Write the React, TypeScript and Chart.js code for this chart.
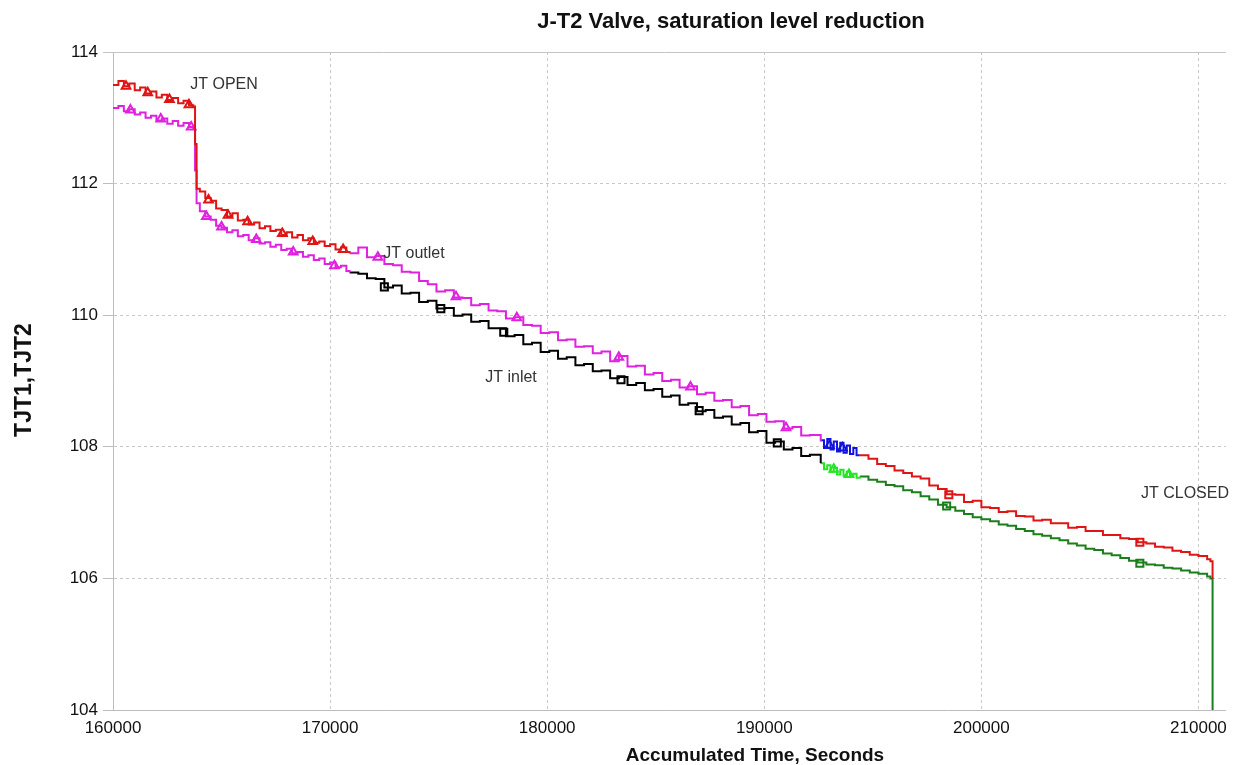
import React, { useEffect, useRef } from "react";
import { Chart, registerables } from "chart.js";

Chart.register(...registerables);

// ---------- data ----------
// segment 1: JT open (upper red / lower magenta)
const seg1Time = [160000, 160250, 160500, 160750, 161000, 161250, 161500, 161750, 162000, 162250, 162500, 162750, 163000, 163250, 163500, 163700, 163780, 163850, 164000, 164250, 164500, 164750, 165000, 165250, 165500, 165750, 166000, 166250, 166500, 166750, 167000, 167250, 167500, 167750, 168000, 168250, 168500, 168750, 169000, 169250, 169500, 169750, 170000, 170250, 170500, 170750, 170900];
const seg1Upper = [113.5, 113.56, 113.48, 113.52, 113.42, 113.46, 113.37, 113.4, 113.31, 113.35, 113.27, 113.3, 113.22, 113.26, 113.19, 113.17, 112.6, 111.92, 111.88, 111.78, 111.74, 111.62, 111.6, 111.5, 111.55, 111.44, 111.45, 111.38, 111.41, 111.32, 111.35, 111.28, 111.3, 111.22, 111.26, 111.18, 111.22, 111.14, 111.17, 111.1, 111.12, 111.05, 111.08, 111.0, 111.03, 110.96, 110.94];
const seg1Lower = [113.15, 113.18, 113.1, 113.13, 113.05, 113.08, 113.0, 113.03, 112.96, 112.99, 112.91, 112.95, 112.88, 112.92, 112.86, 112.84, 112.2, 111.7, 111.58, 111.5, 111.45, 111.36, 111.33, 111.26, 111.29, 111.2, 111.22, 111.14, 111.17, 111.09, 111.11, 111.04, 111.07, 110.99, 111.01, 110.94, 110.96, 110.89, 110.91, 110.84, 110.86, 110.78, 110.8, 110.73, 110.75, 110.67, 110.65];

// segment 2: upper magenta (JT outlet) / lower black (JT inlet)
const seg2Time = [170900, 171300, 171700, 172100, 172500, 172900, 173300, 173700, 174100, 174500, 174900, 175300, 175700, 176100, 176500, 176900, 177300, 177700, 178100, 178500, 178900, 179300, 179700, 180100, 180500, 180900, 181300, 181700, 182100, 182500, 182900, 183300, 183700, 184100, 184500, 184900, 185300, 185700, 186100, 186500, 186900, 187300, 187700, 188100, 188500, 188900, 189300, 189700, 190100, 190500, 190900, 191300, 191700, 192100, 192600];
const seg2Upper = [110.94, 111.03, 110.88, 110.9, 110.78, 110.76, 110.66, 110.65, 110.52, 110.47, 110.36, 110.38, 110.27, 110.26, 110.15, 110.17, 110.07, 110.06, 109.95, 109.97, 109.85, 109.84, 109.73, 109.74, 109.62, 109.63, 109.52, 109.53, 109.42, 109.45, 109.3, 109.38, 109.22, 109.23, 109.1, 109.12, 109.0, 109.02, 108.9, 108.92, 108.8, 108.82, 108.7, 108.71, 108.6, 108.62, 108.48, 108.5, 108.38, 108.39, 108.28, 108.3, 108.17, 108.18, 108.08];
const seg2Lower = [110.65, 110.63, 110.56, 110.55, 110.42, 110.45, 110.33, 110.34, 110.2, 110.22, 110.1, 110.11, 109.99, 110.01, 109.9, 109.91, 109.8, 109.8, 109.68, 109.7, 109.56, 109.58, 109.44, 109.46, 109.34, 109.36, 109.24, 109.26, 109.15, 109.16, 109.04, 109.06, 108.94, 108.97, 108.86, 108.88, 108.76, 108.78, 108.64, 108.66, 108.54, 108.56, 108.44, 108.46, 108.34, 108.36, 108.22, 108.24, 108.06, 108.08, 107.96, 107.98, 107.86, 107.88, 107.75];

// segment 3: upper blue / lower light green
const seg3Time = [192600, 192750, 192900, 193050, 193200, 193350, 193500, 193650, 193800, 193950, 194100, 194250, 194400];
const seg3Upper = [108.1, 107.98, 108.12, 107.96, 108.08, 107.93, 108.06, 107.91, 108.02, 107.89, 107.98, 107.87, 107.87];
const seg3Lower = [107.75, 107.66, 107.72, 107.62, 107.68, 107.58, 107.65, 107.56, 107.62, 107.55, 107.59, 107.53, 107.55];

// segment 4: upper red / lower dark green, until JT closed
const seg4Time = [194400, 194800, 195200, 195600, 196000, 196400, 196800, 197200, 197600, 198000, 198400, 198800, 199200, 199600, 200000, 200400, 200800, 201200, 201600, 202000, 202400, 202800, 203200, 203600, 204000, 204400, 204800, 205200, 205600, 206000, 206400, 206800, 207200, 207600, 208000, 208400, 208800, 209200, 209600, 210000, 210400, 210550, 210650];
const seg4Upper = [107.87, 107.82, 107.74, 107.71, 107.64, 107.6, 107.55, 107.52, 107.41, 107.36, 107.28, 107.27, 107.16, 107.18, 107.08, 107.07, 107.01, 107.02, 106.95, 106.94, 106.88, 106.89, 106.84, 106.84, 106.77, 106.78, 106.72, 106.72, 106.66, 106.66, 106.61, 106.6, 106.55, 106.53, 106.48, 106.47, 106.42, 106.4, 106.36, 106.34, 106.29, 106.26, 106.0];
const seg4Lower = [107.55, 107.5, 107.47, 107.42, 107.4, 107.34, 107.31, 107.25, 107.2, 107.12, 107.08, 107.03, 106.98, 106.93, 106.9, 106.87, 106.82, 106.8, 106.75, 106.72, 106.67, 106.65, 106.61, 106.58, 106.53, 106.5, 106.45, 106.43, 106.38, 106.35, 106.31, 106.27, 106.24, 106.21, 106.2, 106.16, 106.15, 106.12, 106.09, 106.07, 106.03, 106.0, 103.0];

// marker symbols
const mkRedT = [160600, 161600, 162600, 163500, 164400, 165300, 166200, 167800, 169200, 170600];
const mkRedV = [113.48, 113.38, 113.28, 113.2, 111.75, 111.52, 111.42, 111.24, 111.12, 111.0];
const mkMagT = [160800, 162200, 163600, 164300, 165000, 166600, 168300, 170200, 172200, 175800, 178600, 183300, 186600, 191000];
const mkMagV = [113.12, 112.98, 112.86, 111.5, 111.34, 111.15, 110.96, 110.75, 110.88, 110.28, 109.96, 109.36, 108.91, 108.29];
const mkBlkT = [172500, 175100, 178000, 183400, 187000, 190600];
const mkBlkV = [110.43, 110.1, 109.74, 109.02, 108.55, 108.06];
const mkBluT = [193000, 193600];
const mkBluV = [108.02, 107.98];
const mkLgrT = [193200, 193900];
const mkLgrV = [107.66, 107.58];
const mkRed2T = [198500, 207300];
const mkRed2V = [107.27, 106.55];
const mkGrnT = [198400, 207300];
const mkGrnV = [107.1, 106.23];

const xTickValues = [160000, 170000, 180000, 190000, 200000, 210000];
const yTickValues = [104, 106, 108, 110, 112, 114];

const RED = "#e01414";
const MAGENTA = "#e022e0";
const BLACK = "#000000";
const BLUE = "#1212e0";
const LGREEN = "#22e622";
const DGREEN = "#1a7f1a";

const pts = (t: number[], v: number[]) => t.map((x, i) => ({ x, y: v[i] }));

const lineDs = (label: string, t: number[], v: number[], color: string) => ({
  label,
  data: pts(t, v),
  borderColor: color,
  backgroundColor: color,
  borderWidth: 2,
  pointRadius: 0,
  stepped: true,
  fill: false,
});

const markDs = (label: string, t: number[], v: number[], color: string, style: string) => ({
  label,
  data: pts(t, v),
  borderColor: color,
  backgroundColor: "rgba(0,0,0,0)",
  borderWidth: 2,
  pointRadius: 5,
  pointStyle: style,
  showLine: false,
});

const FONT = "'Liberation Sans', Arial, Helvetica, sans-serif";

const textPlugin = {
  id: "texts",
  afterDraw(chart: any) {
    const { ctx, chartArea } = chart;
    ctx.save();
    // solid top frame line
    ctx.strokeStyle = "#c4c4c4";
    ctx.lineWidth = 1;
    ctx.beginPath();
    ctx.moveTo(chartArea.left - 10, chartArea.top + 0.5);
    ctx.lineTo(chartArea.right, chartArea.top + 0.5);
    ctx.stroke();

    ctx.fillStyle = "#111";
    ctx.textAlign = "center";
    ctx.textBaseline = "alphabetic";
    ctx.font = `bold 22px ${FONT}`;
    ctx.fillText("J-T2 Valve, saturation level reduction", 731, 28);
    ctx.font = `bold 19px ${FONT}`;
    ctx.fillText("Accumulated Time, Seconds", 755, 761);

    ctx.save();
    ctx.translate(31, 380);
    ctx.rotate(-Math.PI / 2);
    ctx.font = `bold 23px ${FONT}`;
    ctx.fillText("TJT1,TJT2", 0, 0);
    ctx.restore();

    ctx.fillStyle = "#333";
    ctx.font = `16px ${FONT}`;
    ctx.fillText("JT OPEN", 224, 89);
    ctx.fillText("JT outlet", 414, 258);
    ctx.fillText("JT inlet", 511, 382);
    ctx.fillText("JT CLOSED", 1185, 498);
    ctx.restore();
  },
};

export default function App() {
  const ref = useRef<HTMLCanvasElement | null>(null);
  useEffect(() => {
    document.body.style.margin = "0";
    const canvas = ref.current!;
    const chart = new Chart(canvas, {
      type: "line",
      data: {
        datasets: [
          lineDs("TJT1 open", seg1Time, seg1Upper, RED),
          lineDs("TJT2 open", seg1Time, seg1Lower, MAGENTA),
          lineDs("JT outlet", seg2Time, seg2Upper, MAGENTA),
          lineDs("JT inlet", seg2Time, seg2Lower, BLACK),
          lineDs("TJT1 c", seg3Time, seg3Upper, BLUE),
          lineDs("TJT2 c", seg3Time, seg3Lower, LGREEN),
          lineDs("TJT1 d", seg4Time, seg4Upper, RED),
          lineDs("TJT2 d", seg4Time, seg4Lower, DGREEN),
          markDs("m1", mkRedT, mkRedV, RED, "triangle"),
          markDs("m2", mkMagT, mkMagV, MAGENTA, "triangle"),
          markDs("m3", mkBlkT, mkBlkV, BLACK, "rect"),
          markDs("m4", mkBluT, mkBluV, BLUE, "triangle"),
          markDs("m5", mkLgrT, mkLgrV, LGREEN, "triangle"),
          markDs("m6", mkRed2T, mkRed2V, RED, "rect"),
          markDs("m7", mkGrnT, mkGrnV, DGREEN, "rect"),
        ] as any,
      },
      options: {
        animation: false,
        responsive: false,
        devicePixelRatio: 1,
        layout: { padding: { left: 0, top: 52, right: 2, bottom: 0 } },
        plugins: { legend: { display: false }, tooltip: { enabled: false }, title: { display: false } },
        scales: {
          x: {
            type: "linear",
            min: 160000,
            max: 211260,
            afterFit: (s: any) => { s.height = 55; },
            afterBuildTicks: (s: any) => { s.ticks = xTickValues.map((value) => ({ value })); },
            ticks: {
              padding: 8,
              color: "#111",
              font: { family: FONT, size: 17 },
              callback: (v: any) => String(v),
              maxRotation: 0,
              autoSkip: false,
            },
            grid: { color: "#c8c8c8", drawTicks: false, lineWidth: 1 },
            border: { color: "#bdbdbd", width: 1, dash: [3, 3] },
          },
          y: {
            type: "linear",
            min: 104,
            max: 114,
            afterFit: (s: any) => { s.width = 113; },
            afterBuildTicks: (s: any) => { s.ticks = yTickValues.map((value) => ({ value })); },
            ticks: {
              padding: 5,
              color: "#111",
              font: { family: FONT, size: 17 },
              callback: (v: any) => String(v),
              autoSkip: false,
            },
            grid: { color: "#c8c8c8", drawTicks: true, tickLength: 10, tickColor: "#bdbdbd", lineWidth: 1 },
            border: { color: "#bdbdbd", width: 1, dash: [3, 3] },
          },
        },
      } as any,
      plugins: [textPlugin],
    });
    return () => chart.destroy();
  }, []);
  return (
    <div style={{ width: 1235, height: 765 }}>
      <canvas ref={ref} width={1235} height={765} style={{ display: "block" }} />
    </div>
  );
}
